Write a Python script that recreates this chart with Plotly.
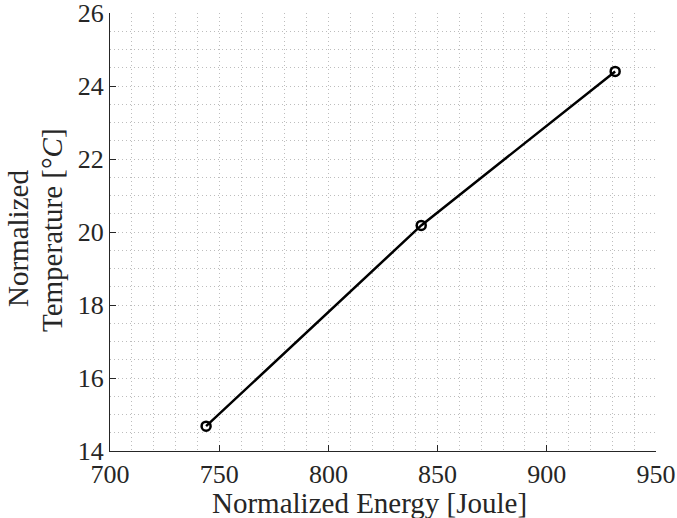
import plotly.graph_objects as go

energy = [744, 842.5, 931.3]
temperature = [14.68, 20.18, 24.4]

x_ticks = [700, 750, 800, 850, 900, 950]
y_ticks = [14, 16, 18, 20, 22, 24, 26]

x_title = "Normalized Energy [Joule]"
y_title_1 = "Normalized"
y_title_2 = "Temperature [°<i>C</i>]"

FONT = "Liberation Serif"
AXCOL = "#262626"
GRIDCOL = "#bdbdbd"
DASH = "1px,3px"

fig = go.Figure()
fig.add_trace(go.Scatter(
    x=energy, y=temperature, mode="lines+markers",
    line=dict(color="black", width=2.5),
    marker=dict(symbol="circle-open", size=9, color="black", line=dict(width=2.5)),
    showlegend=False, cliponaxis=False, hoverinfo="skip",
))

axis_common = dict(
    showline=True, linecolor=AXCOL, linewidth=1,
    ticks="inside", ticklen=6, tickcolor=AXCOL, tickwidth=1,
    showgrid=True, gridcolor=GRIDCOL, griddash=DASH, gridwidth=1,
    zeroline=False, mirror=False, automargin=False,
    ticklabeloverflow="allow",
    tickfont=dict(family=FONT, size=26, color=AXCOL),
)

fig.update_xaxes(
    range=[700, 950], tickvals=x_ticks, ticktext=[str(v) for v in x_ticks],
    minor=dict(dtick=10, showgrid=True, gridcolor=GRIDCOL, griddash=DASH, gridwidth=1, ticks=""),
    ticklabelstandoff=0,
    **axis_common,
)
fig.update_yaxes(
    range=[14, 26], tickvals=y_ticks, ticktext=[str(v) for v in y_ticks],
    minor=dict(dtick=0.5, showgrid=True, gridcolor=GRIDCOL, griddash=DASH, gridwidth=1, ticks=""),
    **axis_common,
)

title_font = dict(family=FONT, size=29, color=AXCOL)
fig.add_annotation(text=x_title, xref="paper", yref="paper", x=0.4744, y=-0.119,
                   xanchor="center", yanchor="middle", showarrow=False, font=title_font)
fig.add_annotation(text=y_title_1, xref="paper", yref="paper", x=-0.1685, y=0.4863,
                   xanchor="center", yanchor="middle", showarrow=False, font=title_font, textangle=-90)
fig.add_annotation(text=y_title_2, xref="paper", yref="paper", x=-0.1062, y=0.5046,
                   xanchor="center", yanchor="middle", showarrow=False, font=title_font, textangle=-90)

fig.update_layout(
    width=677, height=518,
    margin=dict(l=110, r=21, t=13, b=67),
    plot_bgcolor="white", paper_bgcolor="white",
)

fig.write_html("out.html", config={"displayModeBar": False},
               post_script="document.body.style.margin='0';document.body.style.overflow='hidden';")
